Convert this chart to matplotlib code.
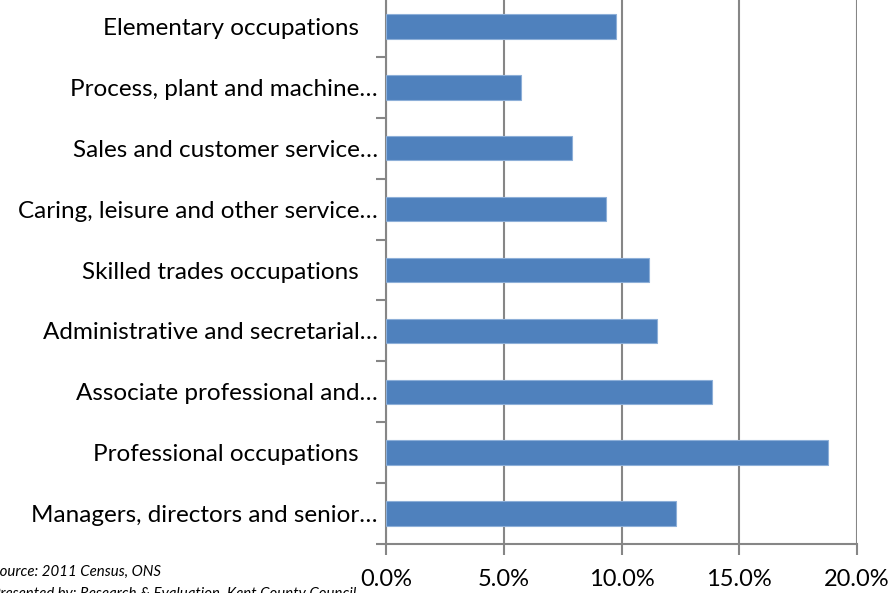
import matplotlib
matplotlib.use("Agg")
import matplotlib.pyplot as plt
import numpy as np

categories = [
    "Managers, directors and senior…",
    "Professional occupations   ",
    "Associate professional and…",
    "Administrative and secretarial…",
    "Skilled trades occupations   ",
    "Caring, leisure and other service…",
    "Sales and customer service…",
    "Process, plant and machine…",
    "Elementary occupations   ",
]
values = [12.3, 18.75, 13.85, 11.5, 11.15, 9.35, 7.9, 5.75, 9.75]
xticks = [0, 5, 10, 15, 20]
xtick_labels = ["0.0%", "5.0%", "10.0%", "15.0%", "20.0%"]

W, H = 894, 593
fig = plt.figure(figsize=(W / 100, H / 100), dpi=100)
left, right, bottom, top = 386, 857, 544, -4
ax = fig.add_axes([left / W, 1 - bottom / H, (right - left) / W, (bottom - top) / H])

y = np.arange(len(categories))
ax.barh(y, values, height=0.4, color="#4F81BD", edgecolor="#8DAFD8", linewidth=0.8, zorder=3)
ax.set_xlim(0, 20)
ax.set_ylim(-0.5, len(categories) - 0.5)

grid_c = "#868686"
ax.set_xticks(xticks)
ax.set_xticklabels(xtick_labels)
ax.xaxis.grid(True, color=grid_c, linewidth=1.5, zorder=0)
ax.set_yticks(y)
ax.set_yticklabels(categories)
ax.set_yticks(np.arange(-0.5, len(categories), 1.0), minor=True)
ax.tick_params(axis="y", which="major", length=0, pad=6, labelsize=17.5)
ax.tick_params(axis="y", which="minor", length=7, width=1.5, color=grid_c)
ax.tick_params(axis="x", which="major", length=8, width=1.5, color=grid_c, pad=10, labelsize=17)
for lab in ax.get_yticklabels() + ax.get_xticklabels():
    lab.set_family("Lato")
for s in ["top", "right"]:
    ax.spines[s].set_visible(False)
for s in ["left", "bottom"]:
    ax.spines[s].set_color(grid_c)
    ax.spines[s].set_linewidth(1.5)

fig.text(-8 / W, 1 - 576 / H, "Source: 2011 Census, ONS", family="Lato", style="italic", fontsize=10.8, ha="left", va="baseline")
fig.text(-8 / W, 1 - 598 / H, "Presented by: Research & Evaluation, Kent County Council", family="Lato", style="italic", fontsize=10.8, ha="left", va="baseline")

fig.savefig("out.png", dpi=100)
